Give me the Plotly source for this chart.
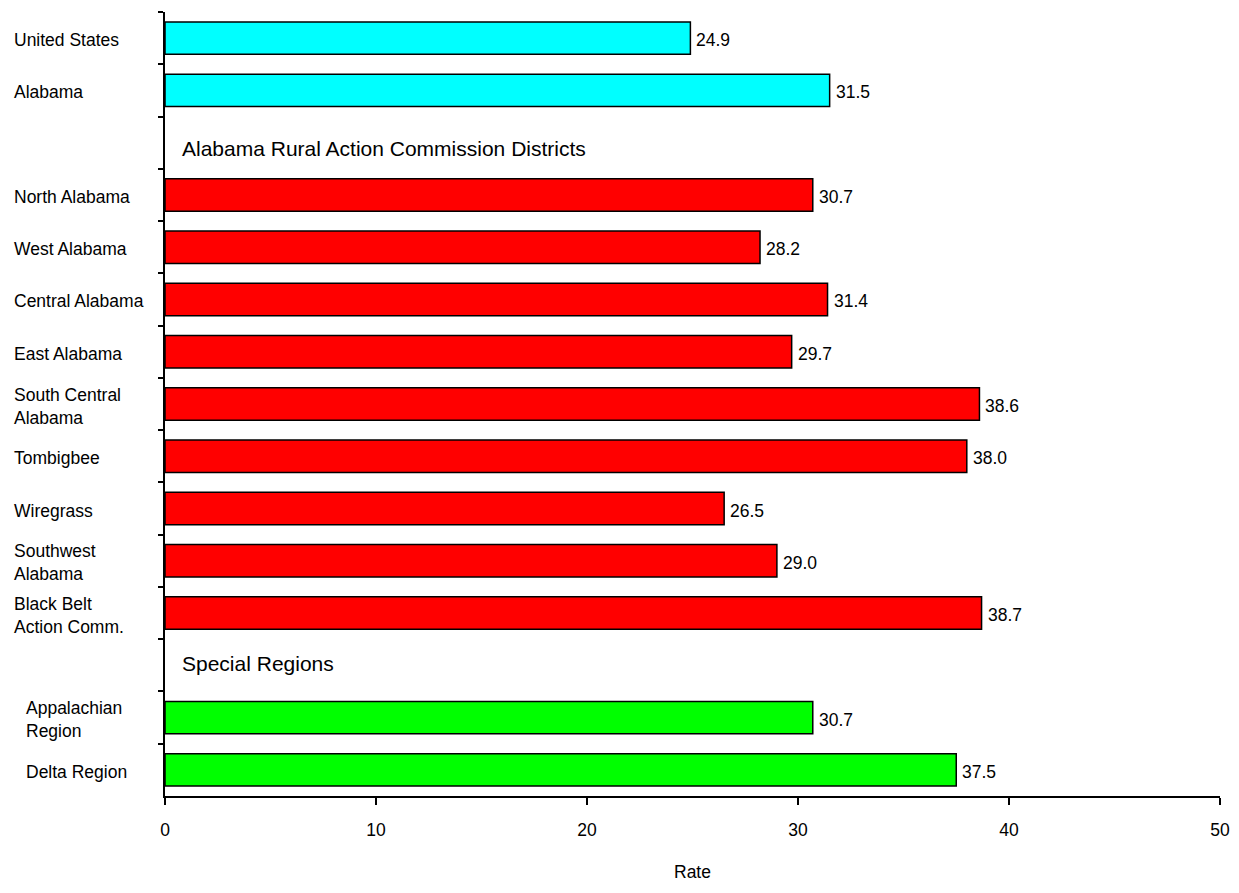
import plotly.graph_objects as go

categories = ["United States", "Alabama", "HEADER_ARAC",
              "North Alabama", "West Alabama", "Central Alabama", "East Alabama",
              "South Central<br>Alabama", "Tombigbee", "Wiregrass",
              "Southwest<br>Alabama", "Black Belt<br>Action Comm.",
              "HEADER_SPECIAL", "Appalachian<br>Region", "Delta Region"]
values = [24.9, 31.5, None, 30.7, 28.2, 31.4, 29.7, 38.6, 38.0, 26.5, 29.0, 38.7, None, 30.7, 37.5]
groups = ["state", "state", None, "district", "district", "district", "district", "district",
          "district", "district", "district", "district", None, "special", "special"]
headers = {"HEADER_ARAC": "Alabama Rural Action Commission Districts",
           "HEADER_SPECIAL": "Special Regions"}
x_ticks = [0, 10, 20, 30, 40, 50]
x_title = "Rate"

group_colors = {"state": "#00FFFF", "district": "#FF0000", "special": "#00FF00"}
label_left_px = {"state": 11, "district": 11, "special": 23}
header_yshift = {"HEADER_ARAC": -6, "HEADER_SPECIAL": 2}

FONT = "Liberation Sans, Arial, sans-serif"
FS = 17.5
HFS = 21
# page body has an 8px margin; figure sized so plot area lands where the reference has it
OFF = 8
W, H = 1239 - 2 * OFF, 893 - 2 * OFF
L, T = 164.5 - OFF, 12 - OFF
R = W - (1220.5 - OFF)
B = H - (796 - OFF)

fig = go.Figure()
bar_cats = [c for c, v in zip(categories, values) if v is not None]
bar_vals = [v for v in values if v is not None]
bar_cols = [group_colors[g] for g in groups if g is not None]
fig.add_trace(go.Bar(
    y=bar_cats, x=bar_vals, orientation="h",
    marker=dict(color=bar_cols, line=dict(color="black", width=1.5)),
    showlegend=False, hoverinfo="x+y",
))

annotations = []
for c, v, g in zip(categories, values, groups):
    if g is None:
        annotations.append(dict(
            x=0, xref="x", y=c, yref="y", text=headers[c], showarrow=False,
            xanchor="left", xshift=15, yshift=header_yshift[c],
            font=dict(family=FONT, size=HFS, color="black")))
    else:
        annotations.append(dict(
            x=0, xref="paper", y=c, yref="y", text=c, showarrow=False,
            xanchor="left", align="left", xshift=label_left_px[g] - 164.5, yshift=-2,
            font=dict(family=FONT, size=FS, color="black")))
        annotations.append(dict(
            x=v, xref="x", y=c, yref="y", text=f"{v:.1f}", showarrow=False,
            xanchor="left", xshift=4, yshift=-2,
            font=dict(family=FONT, size=FS, color="black")))
# x-axis title
annotations.append(dict(
    x=0.5, xref="paper", y=0, yref="paper", text=x_title, showarrow=False,
    xanchor="center", yanchor="middle", yshift=-76,
    font=dict(family=FONT, size=FS, color="black")))

fig.update_layout(
    width=W, height=H,
    margin=dict(l=L, r=R, t=T, b=B, pad=0, autoexpand=False),
    paper_bgcolor="white", plot_bgcolor="white",
    bargap=0.38,
    font=dict(family=FONT, size=FS, color="black"),
    annotations=annotations,
    xaxis=dict(range=[0, 50], tickvals=x_ticks, ticks="outside", ticklen=7, tickwidth=1.5,
               tickcolor="black", showline=True, linecolor="black", linewidth=1.5,
               showgrid=False, zeroline=False, ticklabelstandoff=10, automargin=False,
               ticklabeloverflow="allow",
               tickfont=dict(family=FONT, size=FS, color="black")),
    yaxis=dict(type="category", categoryorder="array", categoryarray=categories,
               range=[len(categories) - 0.5, -0.5], tickson="boundaries",
               ticks="outside", ticklen=5, tickwidth=1.5, tickcolor="black",
               showline=True, linecolor="black", linewidth=1.5, automargin=False,
               showgrid=False, zeroline=False, showticklabels=False),
)
fig.write_html("out.html")
